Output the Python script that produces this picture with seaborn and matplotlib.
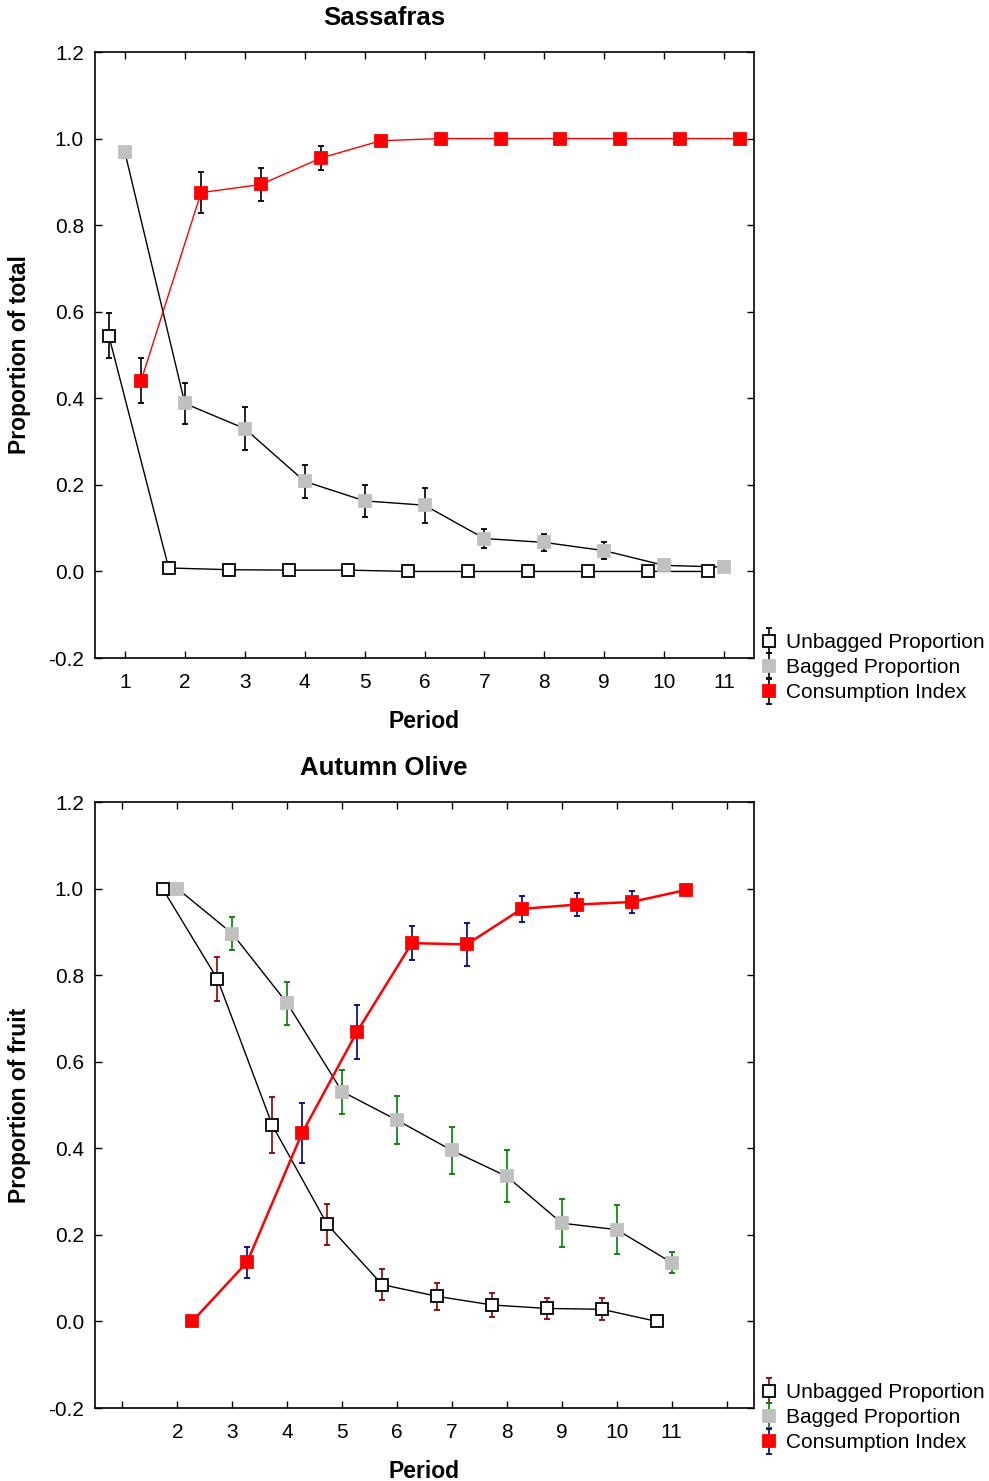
import numpy as np
import pandas as pd
import matplotlib
matplotlib.use("Agg")
import matplotlib.pyplot as plt
from matplotlib.legend_handler import HandlerErrorbar
from matplotlib.container import ErrorbarContainer
import seaborn as sns

# ---------------- data ----------------
periods_top = [1, 2, 3, 4, 5, 6, 7, 8, 9, 10, 11]
unbag_top = [0.545, 0.008, 0.004, 0.003, 0.003, 0.0, 0.0, 0.0, 0.0, 0.0, 0.0]
unbag_top_err = [0.052, 0.004, 0.003, 0.002, 0.002, 0.0, 0.0, 0.0, 0.0, 0.0, 0.0]
bag_top = [0.968, 0.388, 0.330, 0.208, 0.163, 0.153, 0.076, 0.067, 0.048, 0.014, 0.010]
bag_top_err = [0.012, 0.047, 0.050, 0.038, 0.037, 0.040, 0.022, 0.020, 0.020, 0.005, 0.004]
cons_top = [0.441, 0.875, 0.894, 0.955, 0.995, 1.0, 1.0, 1.0, 1.0, 1.0, 1.0]
cons_top_err = [0.051, 0.048, 0.039, 0.028, 0.004, 0.0, 0.0, 0.0, 0.0, 0.0, 0.0]

periods_bot = [2, 3, 4, 5, 6, 7, 8, 9, 10, 11]
unbag_bot = [1.0, 0.791, 0.453, 0.224, 0.085, 0.058, 0.038, 0.030, 0.028, 0.0]
unbag_bot_err = [0.0, 0.051, 0.065, 0.048, 0.035, 0.031, 0.028, 0.025, 0.025, 0.0]
bag_bot = [1.0, 0.896, 0.735, 0.531, 0.465, 0.395, 0.335, 0.227, 0.212, 0.136]
bag_bot_err = [0.0, 0.0385, 0.050, 0.051, 0.056, 0.055, 0.060, 0.056, 0.057, 0.025]
cons_bot = [0.0, 0.137, 0.435, 0.669, 0.874, 0.871, 0.953, 0.963, 0.969, 0.997]
cons_bot_err = [0.0, 0.036, 0.069, 0.063, 0.039, 0.050, 0.030, 0.026, 0.026, 0.0]

series_labels = ["Unbagged Proportion", "Bagged Proportion", "Consumption Index"]
yticks = [-0.2, 0.0, 0.2, 0.4, 0.6, 0.8, 1.0, 1.2]

# ---------------- style ----------------
sns.set_style("ticks")
plt.rcParams["font.family"] = ["Liberation Sans", "DejaVu Sans"]
for k in ["text.color", "axes.labelcolor", "xtick.color", "ytick.color", "axes.edgecolor"]:
    plt.rcParams[k] = "black"
plt.rcParams["xtick.direction"] = "in"
plt.rcParams["ytick.direction"] = "in"

fig = plt.figure(figsize=(9.89, 14.81), dpi=100)
W, H = 989.0, 1481.0


def make_ax(top_px, bottom_px):
    return fig.add_axes([95 / W, 1 - bottom_px / H, (754 - 95) / W, (bottom_px - top_px) / H])


ax1 = make_ax(52, 658)
ax2 = make_ax(802, 1408)

OFF = 0.27
styles = [
    dict(mfc="white", mec="black", line="black", lw=1.0),
    dict(mfc="#c0c0c0", mec="#c0c0c0", line="black", lw=1.0),
    dict(mfc="#ff0000", mec="#ff0000", line="#ff0000", lw=1.0),
]


def draw_panel(ax, periods, ys, errs, offsets, ecolors, red_lw, legend_y):
    handles = []
    for i, (y, e, off, ec) in enumerate(zip(ys, errs, offsets, ecolors)):
        st = styles[i]
        xs = [p + off for p in periods]
        df = pd.DataFrame({"x": xs, "y": y})
        lw = red_lw if i == 2 else st["lw"]
        sns.lineplot(data=df, x="x", y="y", ax=ax, color=st["line"], linewidth=lw,
                     estimator=None, sort=False, legend=False, zorder=2)
        h = ax.errorbar(xs, y, yerr=e, fmt="s", ms=8.5, mfc=st["mfc"], mec=st["mec"],
                        mew=1.3, ecolor=ec, elinewidth=1.2, capsize=2.5, capthick=1.2,
                        label=series_labels[i], zorder=3)
        handles.append(h)
    ax.set_ylim(-0.2, 1.2)
    ax.set_yticks(yticks)
    ax.set_yticklabels([f"{v:.1f}" for v in yticks])
    ax.set_xlabel("Period", fontsize=16.5, fontweight="bold", labelpad=13)
    for s in ax.spines.values():
        s.set_linewidth(1.2)
        s.set_color("black")
    ax.tick_params(axis="both", which="both", direction="in", top=True, right=True,
                   labelsize=15, length=5, width=1, colors="black")
    ax.tick_params(axis="x", pad=11)
    ax.tick_params(axis="y", pad=8)
    leg = ax.legend(handles=handles, labels=series_labels, loc="upper left",
                    bbox_to_anchor=(1.0 + 6 / 659, legend_y), frameon=False, fontsize=15,
                    handlelength=0.9, handletextpad=0.35, labelspacing=0.3,
                    borderpad=0.0, borderaxespad=0.0,
                    handler_map={ErrorbarContainer: HandlerErrorbar(xerr_size=0.5, yerr_size=0.6)})
    return leg


draw_panel(ax1, periods_top, [unbag_top, bag_top, cons_top],
           [unbag_top_err, bag_top_err, cons_top_err], [-OFF, 0.0, OFF],
           ["black", "black", "black"], 1.0, (658 - 633) / 606)
ax1.set_xlim(0.5, 11.5)
ax1.set_xticks(periods_top)
ax1.set_xticklabels([str(p) for p in periods_top])
ax1.set_ylabel("Proportion of total", fontsize=16.5, fontweight="bold", labelpad=12)

draw_panel(ax2, periods_bot, [unbag_bot, bag_bot, cons_bot],
           [unbag_bot_err, bag_bot_err, cons_bot_err], [-OFF, 0.0, OFF],
           ["#8b0000", "#008000", "#00008b"], 1.8, (1408 - 1383) / 606)
ax2.set_xlim(0.5, 12.5)
ax2.set_xticks(list(range(1, 13)))
ax2.set_xticklabels(["" if t in (1, 12) else str(t) for t in range(1, 13)])
ax2.set_ylabel("Proportion of fruit", fontsize=16.5, fontweight="bold", labelpad=12)

fig.text(384 / W, 1 - 18 / H, "Sassafras", ha="center", va="center",
         fontsize=18.5, fontweight="bold")
fig.text(384 / W, 1 - 768 / H, "Autumn Olive", ha="center", va="center",
         fontsize=18.5, fontweight="bold")

fig.savefig("out.png", dpi=100)
